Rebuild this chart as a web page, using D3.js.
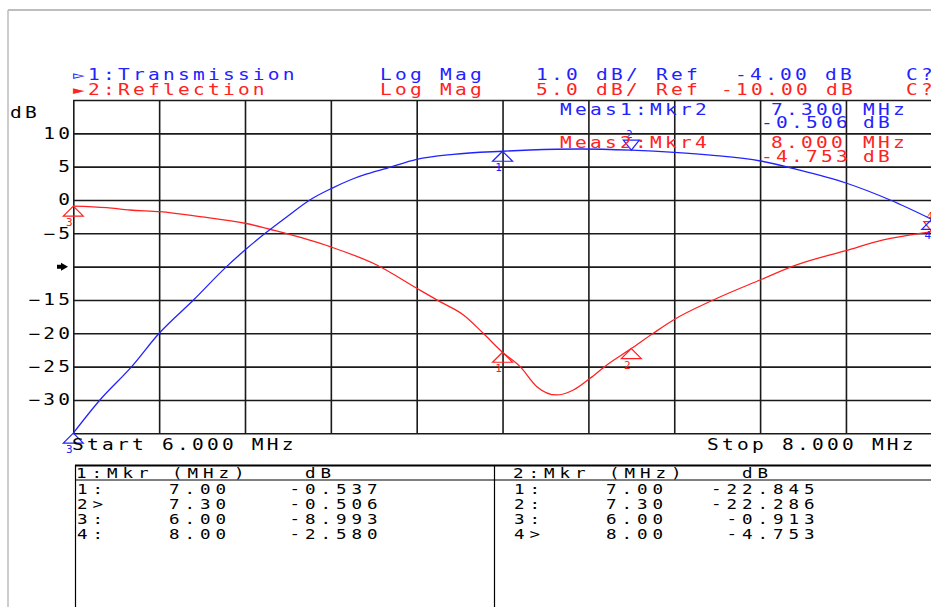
<!DOCTYPE html>
<html>
<head>
<meta charset="utf-8">
<script src="https://cdn.jsdelivr.net/npm/d3@7"></script>
<style>
body { margin: 0; background: #fff; }
svg text { font-family: "DejaVu Sans Mono", monospace; }
</style>
</head>
<body>
<div id="chart"></div>
<script>

// marker table, frequency in MHz
var markerFreq = [7.00, 7.30, 6.00, 8.00];
var markerLabel1 = ["1:", "2>", "3:", "4:"];
var markerLabel2 = ["1:", "2:", "3:", "4>"];
var transMarkerDb = [-0.537, -0.506, -8.993, -2.580];
var reflMarkerDb = [-22.845, -22.286, -0.913, -4.753];

// channel 1 : transmission, 1 dB/div, ref -4 dB
var transFreq = [6.000, 6.062, 6.136, 6.200, 6.280, 6.357, 6.400, 6.450, 6.500, 6.551, 6.602, 6.645, 6.684, 6.730,
                 6.800, 6.885, 7.000, 7.064, 7.180, 7.300, 7.400, 7.491, 7.601, 7.685, 7.800, 7.903, 8.000];
var transDb = [-8.993, -8.0, -7.0, -6.0, -5.0, -4.0, -3.5, -2.97, -2.48, -2.0, -1.65, -1.40, -1.22, -1.05,
               -0.78, -0.63, -0.537, -0.50, -0.47, -0.506, -0.57, -0.66, -0.83, -1.08, -1.49, -2.0, -2.580];

// channel 2 : reflection, 5 dB/div, ref -10 dB
var reflFreq = [6.000, 6.078, 6.132, 6.202, 6.295, 6.400, 6.482, 6.598, 6.707, 6.800, 6.854, 6.909, 6.955, 7.000, 7.041,
                7.080, 7.126, 7.165, 7.204, 7.243, 7.300, 7.351, 7.398, 7.491, 7.600, 7.685, 7.800, 7.887, 7.973, 8.000];
var reflDb = [-0.913, -1.15, -1.5, -1.75, -2.5, -3.49, -4.8, -7.0, -9.75, -13.24, -15.25, -17.25, -20.0, -22.845, -25.0,
              -28.0, -29.25, -28.5, -26.74, -24.75, -22.286, -20.0, -18.0, -15.0, -12.0, -9.75, -7.6, -6.0, -5.0, -4.753];

var yTicks = [10, 5, 0, -5, -10, -15, -20, -25, -30];

var BLUE = "#2222ff", RED = "#ff2222";
var SX = 1.3; // analyzer font is wider than DejaVu Mono

var svg = d3.select("#chart").append("svg").attr("width", 931).attr("height", 607);

// window frame
svg.append("line").attr("x1", 8).attr("x2", 931).attr("y1", 10).attr("y2", 10).attr("stroke", "#bdbdbd").attr("stroke-width", 2);
svg.append("line").attr("x1", 8).attr("x2", 8).attr("y1", 10).attr("y2", 607).attr("stroke", "#bdbdbd").attr("stroke-width", 1.5);

var x = d3.scaleLinear().domain([6, 8]).range([73.3, 931.8]);
var yR = d3.scaleLinear().domain([-35, 15]).range([433.3, 100]);
var yT = d3.scaleLinear().domain([-9, 1]).range([433.3, 100]);

function txt(s, px, py, color, size, pitch) {
    size = size || 15; pitch = pitch || 15;
    return svg.append("text").attr("transform", "translate(" + px + "," + py + ") scale(" + SX + ",1)")
        .attr("fill", color || "#000").attr("font-size", size)
        .attr("letter-spacing", (pitch / SX - 0.602 * size).toFixed(2))
        .text(s);
}

// grid
var gx = svg.append("g").attr("transform", "translate(0,433.3)")
    .call(d3.axisBottom(x).tickValues(d3.range(0, 11).map(i => 6 + i * 0.2)).tickSize(-(433.3 - 100)).tickFormat(""));
var gy = svg.append("g").attr("transform", "translate(73.3,0)")
    .call(d3.axisLeft(yR).tickValues(d3.range(0, 11).map(i => -35 + i * 5)).tickSize(-(931.8 - 73.3)).tickFormat(""));
[gx, gy].forEach(function(g){
    g.select(".domain").remove();
    g.selectAll(".tick line").attr("stroke", "#1a1a1a").attr("stroke-width", 1.6);
});

// y labels (channel 2 scale)
var gl = svg.append("g").attr("transform", "translate(73.3,0)")
    .call(d3.axisLeft(yR).tickValues(yTicks).tickSize(0).tickPadding(0)
        .tickFormat(d => d === -10 ? "" : d3.format("d")(d)));
gl.select(".domain").remove();
gl.selectAll("text").attr("font-family", "DejaVu Sans Mono").attr("font-size", 15)
    .attr("letter-spacing", (15 / SX - 0.602 * 15).toFixed(2)).attr("fill", "#000")
    .attr("transform", "scale(" + SX + ",1)");
txt("dB", 10, 118);
// reference position arrow
var ry = yR(-10);
svg.append("path").attr("d", "M57," + (ry - 2) + "H61V" + (ry - 4) + "L68," + ry + "L61," + (ry + 4) + "V" + (ry + 2) + "H57Z").attr("fill", "#000");

// traces
var lineT = d3.line().x(d => x(d[0])).y(d => yT(d[1])).curve(d3.curveMonotoneX);
var lineR = d3.line().x(d => x(d[0])).y(d => yR(d[1])).curve(d3.curveMonotoneX);
svg.append("path").datum(d3.zip(reflFreq, reflDb)).attr("d", lineR)
    .attr("fill", "none").attr("stroke", RED).attr("stroke-width", 1.3);
svg.append("path").datum(d3.zip(transFreq, transDb)).attr("d", lineT)
    .attr("fill", "none").attr("stroke", BLUE).attr("stroke-width", 1.3);

// markers
function marker(px, py, n, color, active) {
    var g = svg.append("g").attr("stroke", color).attr("fill", "none").attr("stroke-width", 1.2);
    if (active) {
        g.append("path").attr("d", "M" + px + "," + py + "L" + (px - 8) + "," + (py - 10) + "H" + (px + 8) + "Z");
        g.append("text").attr("x", px - 2).attr("y", py - 12).attr("text-anchor", "middle").attr("font-size", 11)
            .attr("stroke", "none").attr("fill", color).text(n);
    } else {
        g.append("path").attr("d", "M" + px + "," + py + "L" + (px - 10) + "," + (py + 10) + "H" + (px + 10) + "Z");
        g.append("text").attr("x", px - 4).attr("y", py + 20).attr("text-anchor", "middle").attr("font-size", 11)
            .attr("stroke", "none").attr("fill", color).text(n);
    }
}
markerFreq.forEach(function(f, i){
    marker(x(f), yR(reflMarkerDb[i]), i + 1, RED, i === 3);
    marker(x(f), yT(transMarkerDb[i]), i + 1, BLUE, i === 1);
});

// header
txt("\u25BB1:Transmission", 73, 80, BLUE);
txt("Log Mag", 380, 80, BLUE);
txt("1.0 dB/ Ref", 536, 80, BLUE);
txt("-4.00 dB", 735, 80, BLUE);
txt("C?", 906, 80, BLUE);
txt("\u25BA2:Reflection", 73, 95, RED);
txt("Log Mag", 380, 95, RED);
txt("5.0 dB/ Ref", 536, 95, RED);
txt("-10.00 dB", 721, 95, RED);
txt("C?", 906, 95, RED);

// active marker readouts
txt("Meas1:Mkr2", 560, 115, BLUE);
txt(d3.format(".3f")(markerFreq[1]), 771, 115, BLUE);
txt("MHz", 863, 115, BLUE);
txt(d3.format(".3f")(transMarkerDb[1]).replace("\u2212", "-"), 761, 128, BLUE);
txt("dB", 863, 128, BLUE);
txt("Meas2:Mkr4", 560, 148, RED);
txt(d3.format(".3f")(markerFreq[3]), 771, 148, RED);
txt("MHz", 863, 148, RED);
txt(d3.format(".3f")(reflMarkerDb[3]).replace("\u2212", "-"), 761, 161.5, RED);
txt("dB", 863, 161.5, RED);

// start / stop
txt("Start 6.000 MHz", 72, 450);
txt("Stop 8.000 MHz", 707, 450);

// marker table
svg.append("line").attr("x1", 75).attr("x2", 931).attr("y1", 465.5).attr("y2", 465.5).attr("stroke", "#000").attr("stroke-width", 2);
svg.append("line").attr("x1", 75).attr("x2", 931).attr("y1", 480).attr("y2", 480).attr("stroke", "#000").attr("stroke-width", 1);
svg.append("line").attr("x1", 75.5).attr("x2", 75.5).attr("y1", 465).attr("y2", 607).attr("stroke", "#000").attr("stroke-width", 1.2);
svg.append("line").attr("x1", 494.5).attr("x2", 494.5).attr("y1", 465).attr("y2", 607).attr("stroke", "#000").attr("stroke-width", 1.2);

var TS = 13.5, TP = 15.5;
function tableCol(x0, title, labels, dbs) {
    txt(title, x0, 477.5, "#000", TS, TP);
    txt("(MHz)", x0 + 96, 477.5, "#000", TS, TP);
    txt("dB", x0 + 229, 477.5, "#000", TS, TP);
    markerFreq.forEach(function(f, i){
        var yy = 493.5 + i * 15;
        txt(labels[i], x0 + 1, yy, "#000", TS, TP);
        txt(d3.format(".2f")(f), x0 + 93, yy, "#000", TS, TP);
        var s = d3.format(".3f")(dbs[i]).replace("\u2212", "-");
        // right aligned number column
        txt(s, x0 + 198 + (7 - s.length) * TP, yy, "#000", TS, TP);
    });
}
tableCol(76, "1:Mkr", markerLabel1, transMarkerDb);
tableCol(513, "2:Mkr", markerLabel2, reflMarkerDb);

</script>
</body>
</html>
